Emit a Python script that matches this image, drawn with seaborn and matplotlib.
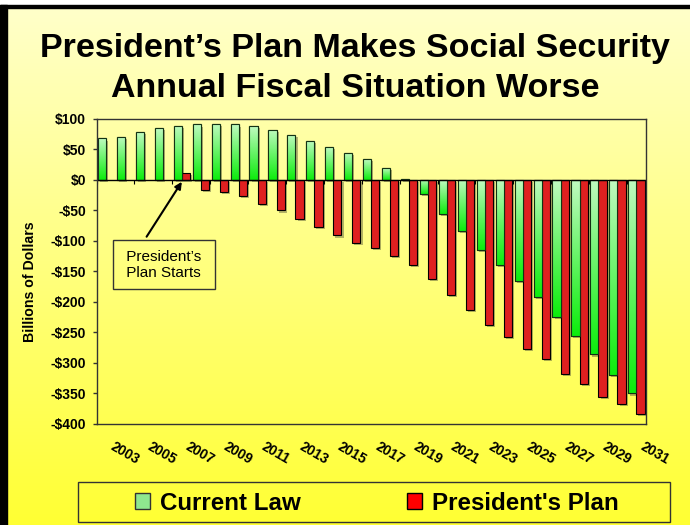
import numpy as np
import pandas as pd
import seaborn as sns
import matplotlib.pyplot as plt
import matplotlib.patheffects as pe
from matplotlib.patches import Rectangle, Patch
from matplotlib.transforms import ScaledTranslation

# === Dati (miliardi di dollari) ===
years = list(range(2003, 2032))
current_law = [68, 71, 78, 85, 89, 91, 92, 91, 88, 82, 74, 64, 54, 45, 34, 19, 2,
               -23, -55, -84, -114, -140, -166, -192, -224, -255, -286, -319, -350]
presidents_plan = [np.nan, np.nan, np.nan, np.nan, 11, -16, -20, -26, -39, -50, -64,
                   -77, -91, -103, -111, -125, -140, -162, -188, -213, -237, -257,
                   -277, -293, -318, -334, -355, -367, -383]
series_names = ["Current Law", "President's Plan"]
y_ticks = list(range(-400, 101, 50))

sns.set_theme(style="white")
plt.rcParams["font.family"] = ["Liberation Sans", "DejaVu Sans"]
plt.rcParams.update({"text.color": "black", "axes.labelcolor": "black",
                     "xtick.color": "black", "ytick.color": "black"})

df = pd.DataFrame({
    "year": [str(y) for y in years] * 2,
    "series": [series_names[0]] * len(years) + [series_names[1]] * len(years),
    "value": current_law + presidents_plan,
})

fig = plt.figure(figsize=(6.9, 5.25), dpi=100)

# === Sfondo a gradiente giallo ===
bg = fig.add_axes([0, 0, 1, 1], zorder=-10)
top_c = np.array([1.0, 1.0, 0.80])
bot_c = np.array([1.0, 1.0, 0.20])
grad = top_c + (bot_c - top_c) * np.linspace(0, 1, 256)[:, None, None]
bg.imshow(grad, aspect="auto", extent=[0, 1, 0, 1])
bg.axis("off")

ax = fig.add_axes([0.140, 0.1924, 0.796, 0.581])
ax.set_facecolor("none")

sns.barplot(data=df, x="year", y="value", hue="series", hue_order=series_names,
            order=[str(y) for y in years], palette=["#66dd66", "#ff0000"],
            width=0.86, edgecolor="black", linewidth=0.8, errorbar=None,
            legend=False, ax=ax, zorder=2)

shadow = [pe.SimplePatchShadow(offset=(1.5, -1.5), shadow_rgbFace="#6a6a40", alpha=0.5), pe.Normal()]
for bar in list(ax.patches):
    bar.set_path_effects(shadow)

# gradiente verde sulle barre "Current Law"
g_top = np.array([0.75, 0.98, 0.75])
g_bot = np.array([0.05, 0.93, 0.05])
g_grad = g_top + (g_bot - g_top) * np.linspace(0, 1, 64)[:, None, None]
for bar in ax.containers[0]:
    x0, y0 = bar.get_xy()
    w, h = bar.get_width(), bar.get_height()
    im = ax.imshow(g_grad, extent=[x0, x0 + w, min(y0, y0 + h), max(y0, y0 + h)],
                   aspect="auto", zorder=2.2, interpolation="bilinear")
    im.set_clip_path(bar)
    ax.add_patch(Rectangle((x0, y0), w, h, fill=False, edgecolor="#143214", lw=0.8, zorder=2.4))

ax.set_xlim(-0.5, len(years) - 0.5)
ax.set_ylim(-400, 100)

# asse delle categorie sullo zero
ax.axhline(0, color="black", lw=1, zorder=2.5)
ax.vlines(np.arange(-0.5, len(years), 2), -6, 0, color="black", lw=0.8, zorder=2.5)

for s in ax.spines.values():
    s.set_visible(True)
    s.set_color("#333333")
    s.set_linewidth(1)

ax.set_yticks(y_ticks, labels=[f"-${abs(v)}" if v < 0 else f"${v}" for v in y_ticks],
              fontweight="bold", fontsize=10)
ax.tick_params(axis="y", direction="out", length=3, width=1, color="#333333", pad=4.5, left=True)

ax.set_xticks(range(0, len(years), 2), labels=[str(y) for y in years[::2]],
              rotation=-30, ha="left", va="top", rotation_mode="anchor",
              fontweight="bold", fontsize=10)
ax.tick_params(axis="x", length=0, pad=11)
for lbl in ax.get_xticklabels():
    lbl.set_transform(lbl.get_transform() + ScaledTranslation(0.085, 0, fig.dpi_scale_trans))

ax.set_xlabel("")
ax.set_ylabel("Billions of Dollars", fontsize=10.2, fontweight="bold")
ax.yaxis.set_label_coords(-0.109, 0.467)

# === Annotazione ===
ax.annotate("", xy=(4, -3), xytext=(2.14, -93),
            arrowprops=dict(arrowstyle="-|>", color="black", lw=1.5, mutation_scale=10,
                            shrinkA=0, shrinkB=0), zorder=4)
ax.text(3.05, -139, " President\u2019s \n Plan Starts ", ha="center", va="center", fontsize=11,
        linespacing=1.15, zorder=4,
        bbox=dict(boxstyle="square,pad=0.62", facecolor="none", edgecolor="#333333", lw=1))

# === Titolo ===
fig.text(0.5145, 1 - 57 / 525, "President\u2019s Plan Makes Social Security", ha="center",
         va="baseline", fontsize=24.5, fontweight="bold")
fig.text(0.5145, 1 - 97 / 525, "Annual Fiscal Situation Worse", ha="center",
         va="baseline", fontsize=24.5, fontweight="bold")

# === Legenda ===
handles = [Patch(facecolor="#8fe88f", edgecolor="#333333"), Patch(facecolor="#ff0000", edgecolor="black")]
fig.legend(handles, series_names, loc="center", bbox_to_anchor=(376.5 / 690, 1 - 503 / 525),
           ncol=2, frameon=False, prop={"weight": "bold", "size": 17.4},
           handlelength=0.65, handleheight=0.65, handletextpad=0.38, columnspacing=4.4)
fig.patches.append(Rectangle((78 / 690, 1 - 522 / 525), 592 / 690, 40 / 525, transform=fig.transFigure,
                             fill=False, edgecolor="#333333", lw=1))

# === Cornice ===
fig.patches.append(Rectangle((0, 1 - 5 / 525), 1, 5 / 525, transform=fig.transFigure, color="white"))
fig.patches.append(Rectangle((0, 1 - 8 / 525), 1, 3 / 525, transform=fig.transFigure, color="black"))
fig.patches.append(Rectangle((0, 0), 7 / 690, 1 - 5 / 525, transform=fig.transFigure, color="black"))

fig.savefig("out.png", dpi=100)
